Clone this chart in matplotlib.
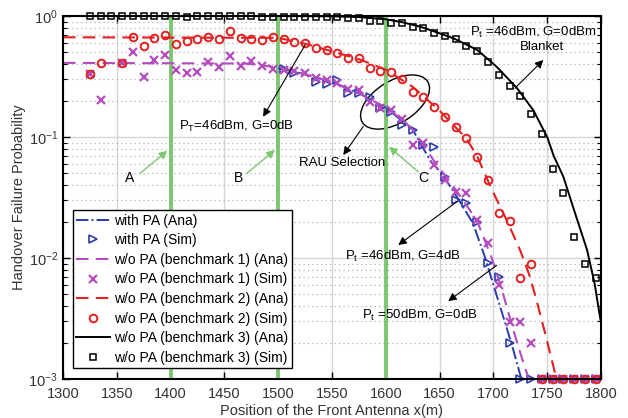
import numpy as np
import matplotlib
matplotlib.use("Agg")
import matplotlib.pyplot as plt
from matplotlib.patches import Ellipse
from matplotlib.transforms import ScaledTranslation
from matplotlib.ticker import LogLocator, NullFormatter, MultipleLocator

plt.rcParams['font.family'] = ['Liberation Sans', 'DejaVu Sans']
plt.rcParams['mathtext.fontset'] = 'custom'
plt.rcParams['mathtext.rm'] = 'Liberation Sans'

# simulation positions (every 10 m)
x_sim = np.arange(1325, 1800, 10)
x_sim_pa = np.arange(1505, 1800, 10)
nan = np.nan

# with PA (Sim)
pa_sim = [0.365, 0.336, nan, 0.286, 0.272, 0.296, 0.23, 0.23, 0.215, 0.173,
          0.16, 0.126, 0.114, 0.086, 0.083, 0.047, 0.0302, 0.0283, 0.02, 0.00904,
          0.00692, 0.002, 1e-3, 1e-3, 1e-3, 1e-3, 1e-3, 1e-3, 1e-3, 1e-3]
# benchmark 1 (Sim)
b1_sim = [0.332, 0.202, nan, 0.407, 0.507, 0.315, 0.433, 0.476, 0.358, 0.336,
          0.347, 0.414, 0.377, 0.467, 0.386, 0.427, 0.386, 0.363, 0.36, 0.35,
          0.336, 0.31, 0.296, 0.278, 0.25, 0.245, 0.196, 0.173, 0.167, 0.14,
          0.0859, 0.0887, 0.0587, 0.0441, 0.0353, 0.0343, 0.0206, 0.0132, 0.00598, 0.00298,
          0.00298, 0.00197, 1e-3, 1e-3, 1e-3, 1e-3, 1e-3, 1e-3]
# benchmark 2 (Sim)
b2_sim = [0.332, 0.407, nan, 0.407, 0.675, 0.565, 0.654, 0.697, 0.583, 0.625,
          0.642, 0.675, 0.642, 0.756, 0.654, 0.642, 0.633, 0.667, 0.642, 0.613,
          0.595, 0.541, 0.524, 0.492, 0.447, 0.447, 0.37, 0.353, 0.347, 0.30,
          0.237, 0.215, 0.178, 0.146, 0.12, 0.0975, 0.0687, 0.0441, 0.0234, 0.0202,
          0.0069, 0.0089, 1e-3, 1e-3, 1e-3, 1e-3, 1e-3, 1e-3]
# benchmark 3 (Sim)
b3_sim = [1.0, 1.0, 1.0, 1.0, 1.0, 1.0, 1.0, 1.0, 1.0, 0.975,
          1.0, 1.0, 1.0, 1.0, 1.0, 1.0, 0.99, 0.99, 0.99, 0.99,
          0.985, 0.985, 0.98, 0.975, 0.97, 0.965, 0.91, 0.91, 0.88, 0.87,
          0.815, 0.79, 0.73, 0.68, 0.645, 0.57, 0.515, 0.42, 0.325, 0.266,
          0.22, 0.156, 0.105, 0.054, 0.0343, 0.015, 0.009, 0.0069]

# analytical curves
pa_ana_x = [1500, 1525, 1550, 1575, 1600, 1625, 1641, 1653, 1666, 1681, 1692, 1701.5, 1711, 1718.5, 1726]
pa_ana = [0.37, 0.33, 0.285, 0.23, 0.175, 0.115, 0.0645, 0.0485, 0.0321, 0.0194, 0.01025, 0.00544, 0.00289, 0.00174, 0.001]
b1_ana_x = [1300, 1470, 1490, 1510, 1530, 1550, 1575, 1600, 1616, 1625, 1644, 1663, 1684.5, 1698, 1708, 1718.5, 1728, 1733]
b1_ana = [0.41, 0.405, 0.385, 0.36, 0.32, 0.285, 0.23, 0.175, 0.138, 0.115, 0.065, 0.0388, 0.0206, 0.01025, 0.00544, 0.00254, 0.00135, 0.001]
b2_ana_x = [1300, 1500, 1525, 1550, 1575, 1600, 1625, 1650, 1675, 1685, 1698, 1713, 1725, 1734, 1740, 1748, 1757, 1758]
b2_ana = [0.667, 0.66, 0.59, 0.51, 0.44, 0.36, 0.26, 0.165, 0.097, 0.069, 0.0377, 0.020, 0.0115, 0.007, 0.0045, 0.0024, 0.00115, 0.001]
b3_ana_x = [1300, 1500, 1550, 1575, 1600, 1615, 1632, 1648, 1663, 1675, 1685, 1703, 1722, 1737, 1750, 1756, 1765, 1777, 1787, 1794, 1800]
b3_ana = [1.0, 1.0, 0.995, 0.98, 0.94, 0.89, 0.816, 0.73, 0.654, 0.58, 0.524, 0.381, 0.253, 0.167, 0.1, 0.07, 0.047, 0.0219, 0.0117, 0.0062, 0.0029]

green_x = [1400, 1500, 1600]

blue = '#2a3bb0'
mag = '#b44cc0'
red = '#e41f1f'
green = '#7cc870'

fig = plt.figure(figsize=(6.28, 4.18), dpi=100)
ax = fig.add_axes([0.1003, 0.0933, 0.8567, 0.8684])
ax.set_yscale('log')
ax.set_xlim(1300, 1800)
ax.set_ylim(1e-3, 1)

# grid
ax.xaxis.set_major_locator(MultipleLocator(50))
ax.yaxis.set_major_locator(LogLocator(base=10, numticks=10))
ax.yaxis.set_minor_locator(LogLocator(base=10, subs=np.arange(2, 10), numticks=10))
ax.yaxis.set_minor_formatter(NullFormatter())
ax.grid(True, which='major', color='#d6d6d6', lw=1.0, ls='-')
ax.grid(True, which='minor', axis='y', color='#a8a8a8', lw=0.8, ls=(0, (1, 3)))
ax.set_axisbelow(True)

for gx in green_x:
    ax.axvline(gx, color=green, lw=2.8, zorder=1.5)

ax.plot(pa_ana_x, pa_ana, color=blue, ls='-.', lw=1.4, label='with PA (Ana)', clip_on=False)
ax.plot(x_sim_pa, pa_sim, ls='none', marker='>', ms=6, mfc='none', mec=blue, mew=1.2,
        label='with PA (Sim)', clip_on=False)
ax.plot(b1_ana_x, b1_ana, color=mag, ls=(0, (6, 3.5)), lw=1.5, label='w/o PA (benchmark 1) (Ana)', clip_on=False)
ax.plot(x_sim, b1_sim, ls='none', marker='x', ms=5.5, color=mag, mew=1.6,
        label='w/o PA (benchmark 1) (Sim)', clip_on=False)
ax.plot(b2_ana_x, b2_ana, color=red, ls=(0, (6, 3.5)), lw=1.5, label='w/o PA (benchmark 2) (Ana)', clip_on=False)
ax.plot(x_sim, b2_sim, ls='none', marker='o', ms=5.5, mfc='none', mec=red, mew=1.4,
        label='w/o PA (benchmark 2) (Sim)', clip_on=False)
ax.plot(b3_ana_x, b3_ana, color='k', lw=1.4, label='w/o PA (benchmark 3) (Ana)')
ax.plot(x_sim, b3_sim, ls='none', marker='s', ms=5, mfc='none', mec='k', mew=1.1,
        label='w/o PA (benchmark 3) (Sim)', clip_on=False)

# RAU selection ellipse
ell = Ellipse((0, 0), width=0.77, height=0.42, angle=32, fill=False, ec='k', lw=1.0,
              transform=fig.dpi_scale_trans + ScaledTranslation(1608.6, 0.1946, ax.transData))
ax.add_patch(ell)

fs = 9.5
karrow = dict(arrowstyle='-|>', color='k', lw=0.8, mutation_scale=12, shrinkA=0, shrinkB=0)
garrow = dict(arrowstyle='-|>', color=green, lw=1.0, mutation_scale=12, shrinkA=0, shrinkB=0)

ax.annotate('', xy=(1560.5, 0.071), xytext=(1579, 0.122), arrowprops=karrow)
ax.text(1559, 0.0606, 'RAU Selection', fontsize=fs, ha='center', va='center')

ax.annotate('', xy=(1486, 0.147), xytext=(1525, 0.576), arrowprops=karrow)
ax.text(1408, 0.123, r'P$_{\rm T}$=46dBm, G=0dB', fontsize=fs, ha='left', va='center')

ax.annotate('', xy=(1746.4, 0.433), xytext=(1720, 0.253), arrowprops=karrow)
ax.text(1678, 0.73, r'P$_{\rm t}$ =46dBm, G=0dBm', fontsize=fs, ha='left', va='center')
ax.text(1745, 0.55, 'Blanket', fontsize=fs, ha='center', va='center')

ax.annotate('', xy=(1611.6, 0.0128), xytext=(1666, 0.0292), arrowprops=karrow)
ax.text(1562, 0.0103, r'P$_{\rm t}$ =46dBm, G=4dB', fontsize=fs, ha='left', va='center')

ax.annotate('', xy=(1658, 0.0044), xytext=(1703, 0.0087), arrowprops=karrow)
ax.text(1577.6, 0.00338, r'P$_{\rm t}$ =50dBm, G=0dB', fontsize=fs, ha='left', va='center')

# A, B, C markers
for lab, tx, ty, ax0, ay0, hx, hy in [('A', 1362, 0.0456, 1371.6, 0.050, 1397, 0.077),
                                       ('B', 1463, 0.0456, 1470.7, 0.050, 1497, 0.078),
                                       ('C', 1635, 0.0456, 1630, 0.0517, 1603, 0.083)]:
    ax.annotate('', xy=(hx, hy), xytext=(ax0, ay0), arrowprops=garrow)
    ax.text(tx, ty, lab, fontsize=fs + 0.5, ha='center', va='center')

ax.tick_params(which='both', direction='in', top=True, right=True, labelsize=10.5,
               labelcolor='#333333')
ax.tick_params(axis='x', pad=6)
ax.tick_params(which='major', length=5, width=1.0)
ax.tick_params(which='minor', length=3, width=0.8)
for sp in ax.spines.values():
    sp.set_linewidth(1.5)

ax.set_xlabel('Position of the Front Antenna x(m)', fontsize=10.5, color='#333333', labelpad=2)
ax.set_ylabel('Handover Failure Probability', fontsize=10.5, color='#333333', labelpad=2)

leg = ax.legend(loc='lower left', bbox_to_anchor=(0.0186, 0.030), borderaxespad=0,
                fontsize=10, labelspacing=0.4, handlelength=2.4, handletextpad=0.3,
                numpoints=1, fancybox=False, framealpha=1, edgecolor='k', borderpad=0.25)
leg.get_frame().set_linewidth(1.0)
leg.set_zorder(5)

fig.savefig('out.png', dpi=100)
